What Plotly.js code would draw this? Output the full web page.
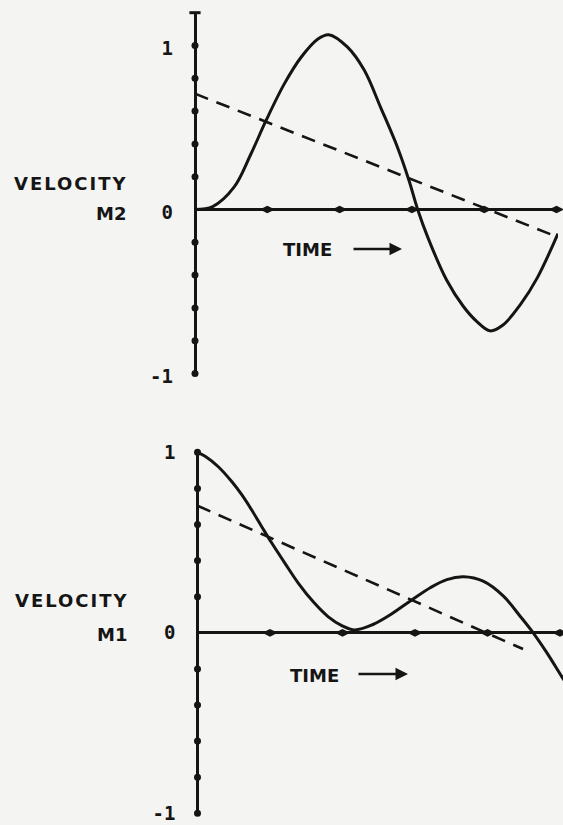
<!DOCTYPE html>
<html><head><meta charset="utf-8">
<script src="https://cdn.plot.ly/plotly-3.0.1.min.js"></script>
<style>html,body{margin:0;padding:0;background:#f4f4f2;}</style>
</head><body><div id="chart" style="width:563px;height:825px;"></div>
<script>
// ---- Data: upper panel, velocity of M2 ----
const m2Time = [0, 0.245, 0.54, 0.775, 0.98, 1.235, 1.47, 1.70, 1.85, 2.11, 2.34, 2.57, 2.80, 2.96, 3.08, 3.22, 3.48, 3.71, 3.90, 4.08, 4.26, 4.50, 4.73, 5.02];
const m2Velocity = [0, 0.018, 0.136, 0.34, 0.54, 0.766, 0.93, 1.04, 1.066, 0.99, 0.85, 0.62, 0.38, 0.177, 0, -0.17, -0.43, -0.59, -0.684, -0.74, -0.704, -0.58, -0.42, -0.147];
const m2TrendTime = [0, 4.96];
const m2TrendVelocity = [0.706, -0.158];

// ---- Data: lower panel, velocity of M1 ----
const m1Time = [0, 0.105, 0.287, 0.472, 0.61, 0.748, 0.886, 1.02, 1.207, 1.40, 1.60, 1.80, 1.99, 2.17, 2.42, 2.66, 2.93, 3.21, 3.44, 3.67, 3.94, 4.22, 4.45, 4.63, 4.82, 5.02, 5.10];
const m1Velocity = [1.0, 0.978, 0.92, 0.838, 0.765, 0.68, 0.588, 0.5, 0.385, 0.27, 0.17, 0.09, 0.04, 0.016, 0.046, 0.10, 0.175, 0.25, 0.295, 0.31, 0.286, 0.203, 0.092, 0, -0.111, -0.24, -0.29];
const m1TrendTime = [0, 4.49];
const m1TrendVelocity = [0.704, -0.09];

// ---- Axis ticks ----
const timeTicks = [1, 2, 3, 4, 5];
const m2ValueTicks = [-1, -0.8, -0.6, -0.4, -0.2, 0.2, 0.4, 0.6, 0.8, 1.0];
const m2AxisTop = [1.2];
const m1ValueTicks = [-1, -0.8, -0.6, -0.4, -0.2, 0.2, 0.4, 0.6, 0.8, 1.0];
const valueTickVals = [-1, 0, 1];
const valueTickText = ['-1', '0', '1'];

const W = 563, H = 825;
const INK = '#151515';
const px = x => x / W;
const py = y => 1 - y / H;

const solid = {color: INK, width: 3, shape: 'spline', smoothing: 1};
const dashed = {color: INK, width: 2.6, dash: '14px,9px'};
const dotMarker = {symbol: 'circle', size: 7, color: INK};
const timeMarker = {symbol: 'diamond-wide', size: 11, color: INK};

const traces = [
  {x: m2Time, y: m2Velocity, xaxis: 'x', yaxis: 'y', mode: 'lines', line: solid},
  {x: m2TrendTime, y: m2TrendVelocity, xaxis: 'x', yaxis: 'y', mode: 'lines', line: dashed},
  {x: m2ValueTicks.map(() => 0), y: m2ValueTicks, xaxis: 'x', yaxis: 'y', mode: 'markers', marker: dotMarker, cliponaxis: false},
  {x: m2AxisTop.map(() => 0), y: m2AxisTop, xaxis: 'x', yaxis: 'y', mode: 'markers', cliponaxis: false,
   marker: {symbol: 'line-ew', size: 8, line: {color: INK, width: 3}}},
  {x: timeTicks, y: timeTicks.map(() => 0), xaxis: 'x', yaxis: 'y', mode: 'markers', marker: timeMarker, cliponaxis: false},

  {x: m1Time, y: m1Velocity, xaxis: 'x2', yaxis: 'y2', mode: 'lines', line: solid},
  {x: m1TrendTime, y: m1TrendVelocity, xaxis: 'x2', yaxis: 'y2', mode: 'lines', line: dashed},
  {x: m1ValueTicks.map(() => 0), y: m1ValueTicks, xaxis: 'x2', yaxis: 'y2', mode: 'markers', marker: dotMarker, cliponaxis: false},
  {x: timeTicks, y: timeTicks.map(() => 0), xaxis: 'x2', yaxis: 'y2', mode: 'markers', marker: timeMarker, cliponaxis: false}
];

const tickFont = {family: 'DejaVu Sans Mono', size: 19, color: INK, weight: 'bold'};
const labelFont = {family: 'DejaVu Sans', size: 18, color: INK, weight: 'bold'};

function timeAxis(x0, x1, spacing) {
  return {domain: [px(x0), px(x1)], range: [0, (x1 - x0) / spacing], showgrid: false,
          zeroline: true, zerolinecolor: INK, zerolinewidth: 3,
          showticklabels: false, ticks: '', tickvals: timeTicks, showline: false, fixedrange: true};
}
function valueAxis(top, bottom, r0, r1, anchor, shift) {
  return {domain: [py(bottom), py(top)], range: [r0, r1], anchor: anchor, showgrid: false,
          zeroline: true, zerolinecolor: INK, zerolinewidth: 3, showline: false,
          tickvals: valueTickVals, ticktext: valueTickText, ticks: '', tickfont: tickFont,
          ticklabelstandoff: 21, ticklabelshift: shift, ticklabeloverflow: 'allow', fixedrange: true};
}

const layout = {
  width: W, height: H,
  margin: {l: 0, r: 0, t: 0, b: 0},
  paper_bgcolor: '#f4f4f2', plot_bgcolor: '#f4f4f2',
  showlegend: false,
  xaxis: timeAxis(195, 558, 72.3),
  yaxis: valueAxis(12.7, 373.5, -1, 1.2, 'x', 3),
  xaxis2: timeAxis(197.5, 563, 72.5),
  yaxis2: valueAxis(450.5, 813.3, -1, 1.01, 'x2', 0),
  annotations: [
    {xref: 'paper', yref: 'paper', x: px(71), y: py(183.5), text: '<span style="letter-spacing:2px">VELOCITY</span>', showarrow: false, font: labelFont, xanchor: 'center', yanchor: 'middle'},
    {xref: 'paper', yref: 'paper', x: px(128), y: py(213.5), text: 'M2', showarrow: false, font: labelFont, xanchor: 'right', yanchor: 'middle'},
    {xref: 'paper', yref: 'paper', x: px(307.5), y: py(249.5), text: 'TIME', showarrow: false, font: labelFont, xanchor: 'center', yanchor: 'middle'},
    {xref: 'paper', yref: 'paper', x: px(402), y: py(249), ax: -50, ay: 0, text: '', showarrow: true, arrowhead: 2, arrowsize: 1, arrowwidth: 2.5, arrowcolor: INK},

    {xref: 'paper', yref: 'paper', x: px(72), y: py(600), text: '<span style="letter-spacing:2px">VELOCITY</span>', showarrow: false, font: labelFont, xanchor: 'center', yanchor: 'middle'},
    {xref: 'paper', yref: 'paper', x: px(129), y: py(634.5), text: 'M1', showarrow: false, font: labelFont, xanchor: 'right', yanchor: 'middle'},
    {xref: 'paper', yref: 'paper', x: px(314), y: py(675.5), text: 'TIME', showarrow: false, font: labelFont, xanchor: 'center', yanchor: 'middle'},
    {xref: 'paper', yref: 'paper', x: px(408), y: py(674), ax: -51, ay: 0, text: '', showarrow: true, arrowhead: 2, arrowsize: 1, arrowwidth: 2.5, arrowcolor: INK}
  ]
};

Plotly.newPlot('chart', traces, layout, {staticPlot: true, displayModeBar: false});
</script>
</body></html>
